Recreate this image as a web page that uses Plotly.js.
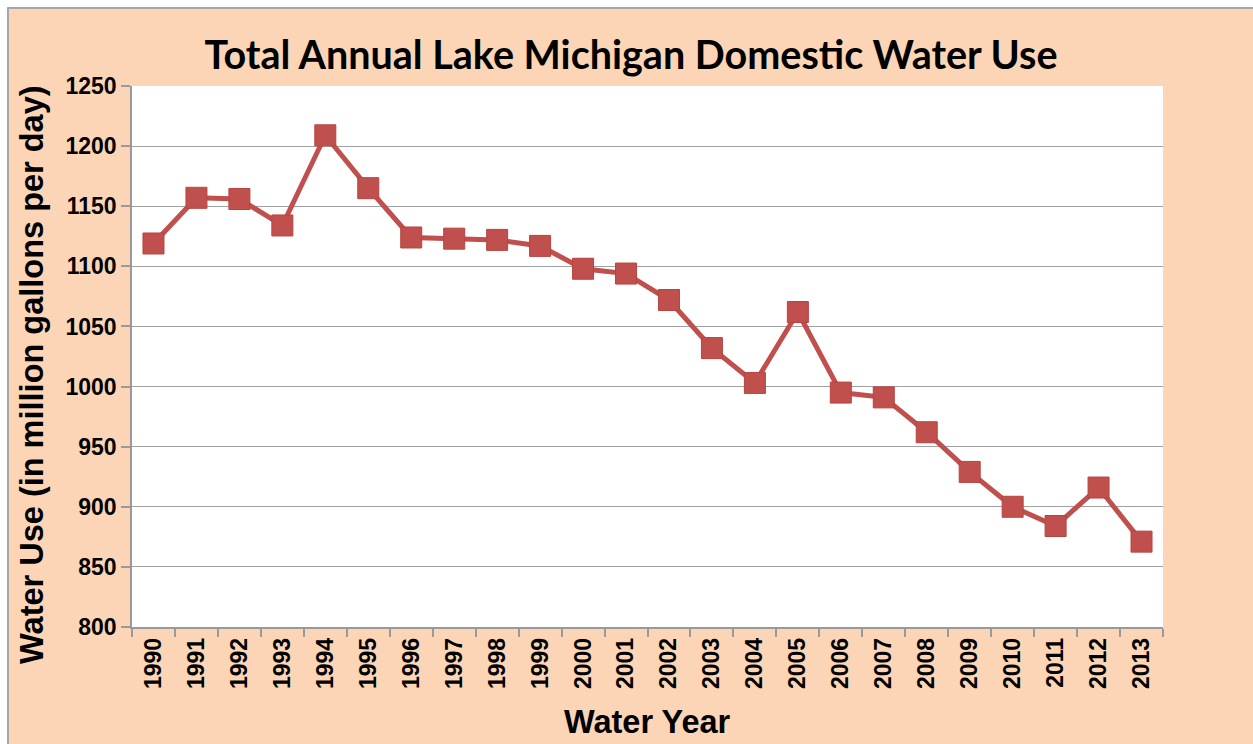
<!DOCTYPE html>
<html>
<head>
<meta charset="utf-8">
<script src="https://cdn.plot.ly/plotly-3.0.1.min.js"></script>
<style>
html,body{margin:0;padding:0;background:#ffffff;}
#wrap{position:absolute;left:7px;top:7px;width:1246px;height:737px;border-left:2px solid #a6a6a6;border-top:2px solid #a6a6a6;box-sizing:border-box;}
#chart{position:absolute;left:0;top:0;width:1244px;height:735px;}
</style>
</head>
<body>
<div id="wrap"><div id="chart"></div></div>
<script>
const years = ["1990","1991","1992","1993","1994","1995","1996","1997","1998","1999","2000","2001","2002","2003","2004","2005","2006","2007","2008","2009","2010","2011","2012","2013"];
const waterUse = [1119,1157,1156,1134,1209,1165,1124,1123,1122,1117,1098,1094,1072,1032,1003,1062,995,991,962,929,900,884,916,871];
const yTicks = [800,850,900,950,1000,1050,1100,1150,1200,1250];

const labelFont = {family: '"Liberation Sans", Arial, sans-serif', size: 23, color: '#000', weight: 'bold'};
const axisTitleFont = {family: '"Liberation Sans", Arial, sans-serif', size: 32.5, color: '#000', weight: 'bold'};

const trace = {
  x: years, y: waterUse, type: 'scatter', mode: 'lines+markers',
  line: {color: '#C0504D', width: 5},
  marker: {symbol: 'square', size: 21, color: '#C0504D', line: {color: '#B9433F', width: 1}},
  hoverinfo: 'x+y'
};
const layout = {
  width: 1244, height: 735,
  margin: {l: 123, r: 90, t: 77, b: 117},
  paper_bgcolor: '#FBD5B5', plot_bgcolor: '#ffffff',
  showlegend: false,
  title: {text: 'Total Annual Lake Michigan Domestic Water Use', x: 0.5, xanchor: 'center', y: 0.937, yanchor: 'middle',
    font: {family: 'Lato, "Open Sans", sans-serif', size: 39.5, color: '#000', weight: 'bold'}},
  xaxis: {
    type: 'category', range: [-0.5, years.length - 0.5], tickson: 'boundaries', ticks: 'outside', ticklen: 8, tickcolor: '#999', tickwidth: 1.5,
    showline: true, linecolor: '#999', linewidth: 1.5, showgrid: false,
    tickangle: -90, tickfont: labelFont
  },
  yaxis: {
    range: [800, 1250], tickvals: yTicks, ticktext: yTicks.map(String),
    ticks: 'outside', ticklen: 9, tickcolor: '#999', tickwidth: 1.5,
    showline: true, linecolor: '#999', linewidth: 1.5, showgrid: true, gridcolor: '#a0a0a0', gridwidth: 1.2, zeroline: false,
    tickfont: labelFont
  },
  annotations: [
    {text: 'Water Year', xref: 'paper', yref: 'paper', x: 0.5, y: -0.1756, xanchor: 'center', yanchor: 'middle', showarrow: false, font: axisTitleFont},
    {text: 'Water Use (in million gallons per day)', xref: 'paper', yref: 'paper', x: -0.097, y: 0.466, xanchor: 'center', yanchor: 'middle', textangle: -90, showarrow: false, font: axisTitleFont}
  ]
};
Plotly.newPlot('chart', [trace], layout, {displayModeBar: false});
</script>
</body>
</html>
